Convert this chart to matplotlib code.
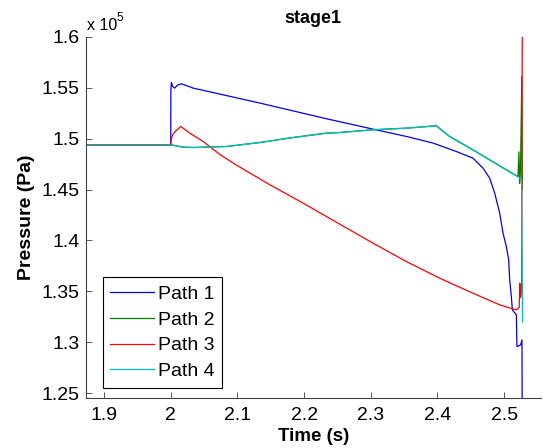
import numpy as np
import matplotlib
matplotlib.use("Agg")
import matplotlib.pyplot as plt

plt.rcParams["font.family"] = ["Liberation Sans", "DejaVu Sans"]

# pressure in units of 1e5 Pa, time in s
t_path1 = [1.87, 2.0, 2.0002, 2.001, 2.003, 2.006, 2.010, 2.0161, 2.0335,
           2.1335, 2.2335, 2.3033, 2.3534, 2.3934, 2.4283, 2.4533, 2.4683,
           2.4783, 2.4858, 2.4933, 2.4983, 2.5033, 2.5068, 2.5083, 2.5108,
           2.5123, 2.5158, 2.5183, 2.5192, 2.5247, 2.5267, 2.5272]
p_path1 = [1.4939, 1.4939, 1.548, 1.5551, 1.551, 1.5496, 1.5525, 1.5538,
           1.5496, 1.5349, 1.5195, 1.5093, 1.5021, 1.4956, 1.4873, 1.4808,
           1.4710, 1.4612, 1.4465, 1.4268, 1.4072, 1.3940, 1.3810, 1.3613,
           1.3449, 1.3318, 1.3290, 1.3269, 1.2958, 1.2975, 1.3024, 1.20]

t_path2 = [1.87, 2.0, 2.0185, 2.0335, 2.0836, 2.1335, 2.1834, 2.2335,
           2.2534, 2.3033, 2.3534, 2.3984, 2.4183, 2.4533, 2.4783, 2.5033,
           2.5207, 2.5222, 2.5232, 2.5245, 2.5265, 2.5272]
p_path2 = [1.4939, 1.4939, 1.4917, 1.4913, 1.4923, 1.4962, 1.5011, 1.5054,
           1.5060, 1.5087, 1.5103, 1.5126, 1.5021, 1.4890, 1.4792, 1.4694,
           1.4628, 1.487, 1.456, 1.470, 1.561, 1.45]

t_path3 = [1.87, 2.0, 2.0005, 2.0026, 2.006, 2.0150, 2.0285, 2.0485, 2.0735,
           2.0985, 2.1485, 2.1984, 2.2534, 2.3033, 2.3534, 2.4033, 2.4533,
           2.4933, 2.5183, 2.5225, 2.5235, 2.5245, 2.5262, 2.5272]
p_path3 = [1.4939, 1.4939, 1.4975, 1.5037, 1.5065, 1.5119, 1.5054, 1.4972,
           1.4845, 1.4740, 1.4547, 1.4367, 1.4160, 1.3974, 1.3793, 1.3630,
           1.3482, 1.3368, 1.3318, 1.3340, 1.358, 1.344, 1.350, 1.62]

t_path4 = [1.87, 2.0, 2.018, 2.034, 2.084, 2.134, 2.183, 2.234, 2.253,
           2.303, 2.353, 2.398, 2.418, 2.453, 2.478, 2.503, 2.5207, 2.5262,
           2.5275]
p_path4 = [1.4939, 1.4939, 1.4915, 1.4912, 1.4922, 1.4961, 1.5010, 1.5053,
           1.5059, 1.5086, 1.5102, 1.5125, 1.5020, 1.4889, 1.4791, 1.4693,
           1.4625, 1.460, 1.32]

x_ticks = [1.9, 2.0, 2.1, 2.2, 2.3, 2.4, 2.5]
y_ticks = [1.25, 1.3, 1.35, 1.4, 1.45, 1.5, 1.55, 1.6]

fig = plt.figure(figsize=(5.43, 4.48), dpi=100)
ax = fig.add_axes([0.158, 0.111, 0.838, 0.807])

ax.plot(t_path1, p_path1, color=(0, 0, 1), lw=0.9, label="Path 1")
ax.plot(t_path2, p_path2, color=(0, 0.5, 0), lw=0.9, label="Path 2")
ax.plot(t_path3, p_path3, color=(1, 0, 0), lw=0.9, label="Path 3")
ax.plot(t_path4, p_path4, color=(0, 0.75, 0.75), lw=0.9, label="Path 4")

ax.set_xlim(1.8726, 2.555)
ax.set_ylim(1.2451, 1.6)
ax.set_xticks(x_ticks)
ax.set_xticklabels([f"{v:g}" for v in x_ticks])
ax.set_yticks(y_ticks)
ax.set_yticklabels([f"{v:g}" for v in y_ticks])

for side in ("top", "right"):
    ax.spines[side].set_visible(False)
for side in ("left", "bottom"):
    ax.spines[side].set_linewidth(0.8)
    ax.spines[side].set_color("#404040")
ax.tick_params(direction="in", length=4, width=0.6, color="#404040",
               labelsize=14)
ax.tick_params(axis="y", pad=4.3)
ax.tick_params(axis="x", pad=6)

ax.set_title("stage1", fontsize=13, fontweight="bold", pad=10)
ax.set_xlabel("Time (s)", fontsize=13.5, fontweight="bold", labelpad=3.5)
ax.set_ylabel("Pressure (Pa)", fontsize=14, fontweight="bold", labelpad=5)

# exponent label in the MATLAB style
ax.text(0.002, 1.0185, "x 10", transform=ax.transAxes, fontsize=11.5,
        va="baseline", ha="left")
ax.text(0.068, 1.043, "5", transform=ax.transAxes, fontsize=8.5,
        va="baseline", ha="left")

leg = ax.legend(loc="lower left", bbox_to_anchor=(0.037, 0.0285),
                borderaxespad=0, fontsize=14, handlelength=2.25,
                handletextpad=0.2, labelspacing=0.42, borderpad=0.4,
                fancybox=False, framealpha=1)
leg.get_frame().set_edgecolor("black")
leg.get_frame().set_linewidth(0.8)

fig.savefig("out.png", dpi=100)
